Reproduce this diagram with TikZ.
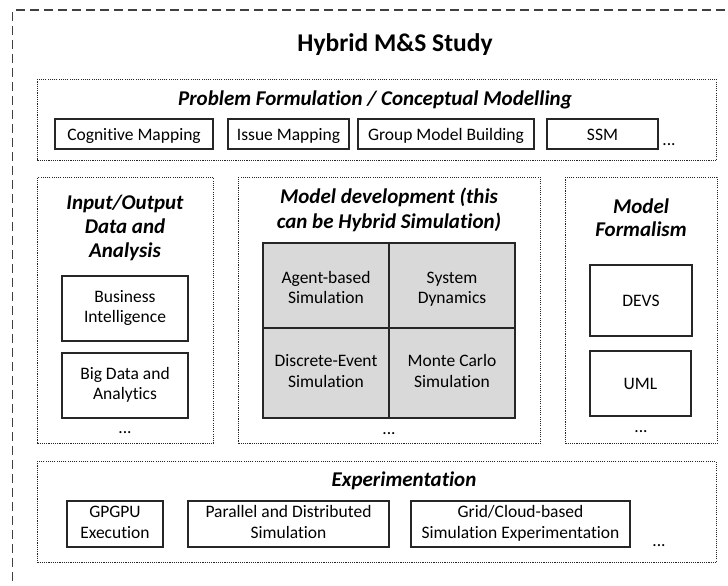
\documentclass[tikz,border=0pt]{standalone}
\usepackage{fontspec}
\setmainfont{Carlito}[RawFeature={-liga}]
\definecolor{cellgray}{HTML}{D9D9D9}
\begin{document}
\begin{tikzpicture}[x=1pt,y=-1pt,
  body/.style={font=\fontsize{17.5}{20.5}\selectfont},
  hdr/.style={font=\fontsize{21}{24}\selectfont\bfseries\itshape, inner sep=0pt, anchor=base},
  box/.style={draw=black!85, line width=1.2pt, inner sep=0pt, align=center, body, text height=32.5pt, text depth=4pt},
  oneline/.style={box, text height=12pt, text depth=0pt},
  cell/.style={box, fill=cellgray},
  group/.style={draw=black!85, line width=0.9pt, dash pattern=on 1.1pt off 1.1pt, inner sep=0pt, anchor=north west},
  outerbox/.style={draw=black!75, line width=1.3pt, dash pattern=on 9pt off 5pt, inner sep=0pt, anchor=north west},
  more/.style={body, inner sep=0pt, anchor=base}]
\clip (0,0) rectangle (728,586);
\fill[white] (0,0) rectangle (728,586);
% outer study frame (cropped at right and bottom)
\node[outerbox, minimum width=760pt, minimum height=620pt] (study) at (12,9.5) {};
\node[font=\fontsize{25.5}{30}\selectfont\bfseries, anchor=base, inner sep=0pt] (title) at (395,52) {Hybrid M\&S Study};

% Problem formulation
\node[group, minimum width=679pt, minimum height=81pt] (pf) at (37,79) {};
\node[hdr] (pfh) at (375,105) {Problem Formulation / Conceptual Modelling};
\node[oneline, minimum width=158pt, minimum height=30pt] (cm) at (134,134) {Cognitive Mapping};
\node[oneline, minimum width=121pt, minimum height=30pt] (im) at (288.5,134) {Issue Mapping};
\node[oneline, minimum width=176pt, minimum height=30pt] (gmb) at (446,134) {Group Model Building};
\node[oneline, minimum width=111pt, minimum height=30pt] (ssm) at (602.5,134) {SSM};
\node[more] (pfm) at (669,145.5) {...};

% Input/Output
\node[group, minimum width=176pt, minimum height=266pt] (io) at (37,177) {};
\node[hdr] (ioh1) at (125,209) {Input/Output};
\node[hdr] (ioh2) at (125,233) {Data and};
\node[hdr] (ioh3) at (125,257) {Analysis};
\node[box, minimum width=126pt, minimum height=65pt] (bi) at (125,308.5) {Business\\Intelligence};
\node[box, minimum width=126pt, minimum height=65pt] (bd) at (125,385.5) {Big Data and\\Analytics};
\node[more] (iom) at (125,433.5) {...};

% Model development
\node[group, minimum width=302pt, minimum height=266pt] (md) at (238,177) {};
\node[hdr] (mdh1) at (389,203) {Model development (this};
\node[hdr] (mdh2) at (389,228) {can be Hybrid Simulation)};
\node[cell, text height=40pt, minimum width=126pt, minimum height=85pt] (abs) at (326,285.5) {Agent-based\\Simulation};
\node[cell, text height=40pt, minimum width=126pt, minimum height=85pt] (sd) at (452,285.5) {System\\Dynamics};
\node[cell, minimum width=126pt, minimum height=90pt] (des) at (326,373) {Discrete-Event\\Simulation};
\node[cell, minimum width=126pt, minimum height=90pt] (mc) at (452,373) {Monte Carlo\\Simulation};
\node[more] (mdm) at (389,434) {...};

% Model formalism
\node[group, minimum width=152pt, minimum height=266pt] (mf) at (565,177) {};
\node[hdr] (mfh1) at (641,213) {Model};
\node[hdr] (mfh2) at (641,236.5) {Formalism};
\node[oneline, minimum width=102pt, minimum height=71pt] (devs) at (641,300.5) {DEVS};
\node[oneline, minimum width=101pt, minimum height=65pt] (uml) at (640.5,383.5) {UML};
\node[more] (mfm) at (641,432.5) {...};

% Experimentation
\node[group, minimum width=679pt, minimum height=101pt] (ex) at (37,461) {};
\node[hdr] (exh) at (404,486.5) {Experimentation};
\node[box, minimum width=96pt, minimum height=46pt] (gp) at (115,524) {GPGPU\\Execution};
\node[box, minimum width=201pt, minimum height=46pt] (pds) at (288.5,524) {Parallel and Distributed\\Simulation};
\node[box, minimum width=219pt, minimum height=46pt] (gc) at (520.5,524) {Grid/Cloud-based\\Simulation Experimentation};
\node[more] (exm) at (659,546) {...};
\end{tikzpicture}
\end{document}
